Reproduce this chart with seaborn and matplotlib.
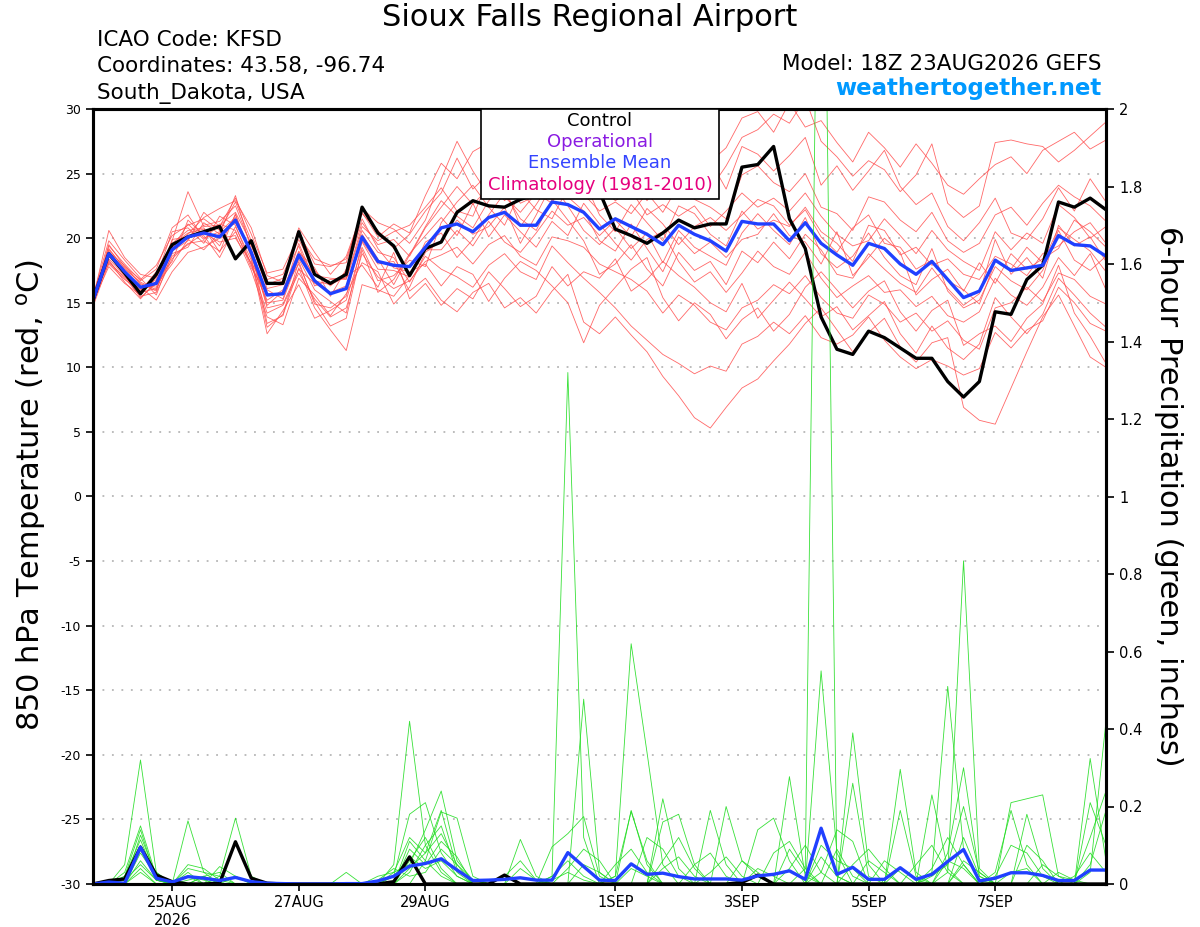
import numpy as np
import pandas as pd
import matplotlib
matplotlib.use("Agg")
import matplotlib.pyplot as plt
from matplotlib.patches import Rectangle
import seaborn as sns

# ---- data (6-hourly, 23AUG2026 18Z -> 08SEP2026 18Z) ----
times = pd.date_range("2026-08-23 18:00", periods=65, freq="6h")

control_t = [15.2, 18.8, 17.3, 15.7, 17.2, 19.5, 20.1, 20.5, 20.9, 18.4, 19.8,
             16.5, 16.5, 20.5, 17.2, 16.5, 17.2, 22.4, 20.4, 19.4, 17.1, 19.2,
             19.7, 22.0, 22.9, 22.5, 22.4, 23.0, 23.4, 23.8, 24.2, 24.6, 23.6,
             20.7, 20.2, 19.6, 20.4, 21.4, 20.8, 21.1, 21.1, 25.5, 25.7, 27.1,
             21.5, 19.2, 13.9, 11.4, 11.0, 12.8, 12.3, 11.5, 10.7, 10.7, 8.9,
             7.7, 8.9, 14.3, 14.1, 16.8, 17.9, 22.8, 22.4, 23.1, 22.2]

mean_t = [15.2, 18.8, 17.4, 16.2, 16.5, 19.1, 20.1, 20.4, 20.1, 21.4, 18.9,
          15.6, 15.7, 18.7, 16.7, 15.7, 16.1, 20.1, 18.2, 17.9, 17.8, 19.3,
          20.8, 21.1, 20.5, 21.6, 22.0, 21.0, 21.0, 22.8, 22.6, 22.0, 20.7,
          21.5, 20.9, 20.3, 19.5, 21.0, 20.3, 19.8, 19.0, 21.3, 21.1, 21.1,
          19.8, 21.2, 19.6, 18.7, 17.9, 19.6, 19.2, 18.0, 17.2, 18.2, 16.8,
          15.4, 15.9, 18.3, 17.5, 17.7, 17.9, 20.2, 19.5, 19.4, 18.6]

t01 = [15.0, 19.5, 17.8, 16.8, 17.9, 20.2, 21.0, 21.5, 20.6, 22.8, 19.8,
       16.8, 17.2, 19.9, 17.5, 16.3, 17.4, 21.2, 19.5, 19.9, 18.6, 20.8,
       22.4, 24.0, 22.6, 23.9, 24.8, 22.7, 23.3, 25.6, 24.0, 23.4, 22.1,
       22.8, 21.9, 23.5, 22.0, 24.1, 23.0, 22.4, 21.5, 24.9, 25.6, 24.3,
       23.6, 25.0, 22.4, 21.9, 20.6, 23.2, 22.8, 21.4, 20.5, 22.0, 19.8,
       18.9, 19.6, 21.8, 22.4, 21.0, 22.7, 24.1, 23.2, 22.5, 21.3]
t02 = [15.4, 18.2, 16.9, 15.5, 15.8, 18.4, 19.6, 19.8, 19.0, 20.5, 18.0,
       14.2, 14.8, 17.3, 15.3, 13.9, 14.6, 18.8, 17.0, 16.1, 16.7, 18.2,
       18.7, 19.3, 18.0, 19.5, 20.2, 18.6, 17.9, 20.1, 19.8, 19.3, 18.0,
       17.4, 16.8, 15.9, 14.2, 15.6, 14.8, 13.5, 12.9, 14.6, 15.2, 16.4,
       15.7, 17.1, 15.4, 14.2, 13.8, 15.6, 14.9, 13.5, 14.2, 12.8, 13.6,
       12.1, 11.4, 14.6, 15.0, 16.2, 15.1, 17.3, 16.8, 15.5, 14.9]
t03 = [14.8, 18.9, 17.9, 16.4, 16.2, 19.8, 23.6, 20.9, 21.0, 22.0, 19.6,
       16.1, 16.4, 20.5, 18.0, 17.8, 18.4, 21.9, 20.6, 19.2, 20.3, 22.1,
       23.5, 26.2, 23.8, 25.0, 22.9, 24.1, 24.8, 26.9, 27.5, 25.2, 23.9,
       25.4, 24.0, 26.3, 24.7, 27.2, 25.1, 23.8, 25.6, 27.8, 28.4, 29.6,
       28.9, 30.8, 27.5, 26.3, 24.8, 26.0, 25.3, 23.6, 24.9, 27.3, 22.7,
       21.6, 22.5, 27.4, 27.6, 27.3, 27.1, 25.9, 26.8, 27.9, 29.0]
t04 = [15.5, 19.8, 18.3, 16.9, 15.6, 18.8, 19.3, 21.2, 20.3, 23.3, 19.1,
       13.4, 14.0, 17.7, 14.6, 12.9, 11.3, 16.4, 16.0, 15.5, 17.1, 19.7,
       20.4, 18.5, 19.9, 21.8, 23.5, 21.5, 20.6, 23.0, 21.4, 19.8, 17.2,
       18.0, 19.5, 17.6, 16.3, 18.9, 17.5, 18.2, 16.4, 19.0, 18.1, 19.7,
       18.4, 20.3, 19.1, 17.2, 16.9, 18.8, 17.6, 16.5, 15.8, 17.7, 16.1,
       14.8, 15.7, 19.9, 17.2, 18.5, 16.9, 21.0, 19.4, 20.1, 18.2]
t05 = [15.1, 17.8, 16.5, 15.6, 17.0, 20.5, 20.8, 19.6, 21.7, 21.0, 17.9,
       15.2, 16.0, 19.0, 17.1, 16.9, 16.8, 20.6, 18.9, 18.5, 16.6, 18.6,
       17.6, 17.0, 16.2, 17.9, 18.8, 17.4, 16.8, 19.4, 18.1, 16.9, 15.8,
       14.6, 13.2, 12.1, 11.0, 10.3, 9.5, 10.1, 9.7, 11.8, 12.4, 13.5,
       12.6, 14.0, 12.3, 11.8, 12.5, 13.9, 12.1, 10.8, 9.9, 10.6, 10.1,
       9.4, 9.9, 12.7, 11.5, 12.9, 13.6, 16.2, 15.0, 13.4, 12.8]
t06 = [15.3, 18.6, 17.2, 16.0, 16.8, 18.2, 21.4, 20.2, 18.5, 20.9, 18.3,
       12.6, 14.4, 16.4, 13.8, 14.4, 15.2, 19.3, 16.7, 17.1, 18.3, 17.8,
       21.2, 22.8, 24.1, 22.4, 21.0, 23.6, 22.2, 21.5, 23.9, 24.5, 21.8,
       20.5, 22.6, 21.2, 19.8, 22.5, 21.9, 20.3, 19.4, 22.1, 20.7, 21.4,
       20.9, 22.4, 20.5, 19.6, 18.2, 21.0, 20.6, 18.7, 19.3, 17.9, 18.4,
       17.2, 16.8, 18.6, 18.0, 17.1, 18.8, 19.4, 20.5, 21.2, 19.6]
t07 = [14.9, 19.2, 17.6, 16.6, 16.0, 19.0, 19.8, 22.0, 20.9, 23.1, 20.3,
       17.3, 17.6, 20.2, 18.4, 17.9, 18.1, 22.3, 21.2, 20.7, 19.6, 21.4,
       24.6, 27.5, 25.2, 23.3, 25.6, 25.9, 27.1, 28.4, 26.0, 27.3, 25.4,
       24.1, 25.3, 22.9, 24.6, 25.8, 24.2, 26.0, 23.8, 27.1, 26.5, 25.2,
       26.4, 27.8, 24.1, 25.6, 23.7, 25.2, 26.8, 24.0, 22.6, 23.5, 20.9,
       19.8, 21.2, 23.1, 20.4, 19.9, 21.5, 23.9, 22.1, 24.6, 22.8]
t08 = [15.6, 18.0, 16.8, 15.9, 17.4, 19.5, 20.4, 20.7, 19.4, 21.8, 18.6,
       15.0, 15.2, 18.4, 16.0, 15.1, 14.2, 19.8, 18.0, 18.2, 15.9, 16.9,
       15.2, 14.3, 15.8, 16.5, 14.6, 15.4, 14.2, 15.9, 17.2, 13.5, 12.6,
       13.9, 12.5, 11.2, 9.3, 7.8, 6.1, 5.3, 6.9, 8.4, 9.1, 10.5,
       11.8, 13.4, 14.6, 12.9, 11.2, 12.7, 13.8, 11.6, 10.4, 11.9, 12.3,
       6.9, 5.9, 5.6, 8.4, 11.2, 13.9, 15.6, 13.2, 10.8, 10.0]
t09 = [15.0, 19.0, 17.4, 16.2, 15.2, 17.4, 18.9, 19.3, 20.0, 20.2, 17.5,
       13.9, 13.3, 16.9, 15.6, 14.0, 15.7, 18.1, 17.4, 14.9, 16.2, 18.9,
       19.8, 21.4, 20.3, 20.9, 22.4, 19.6, 21.8, 24.2, 22.5, 20.6, 19.5,
       20.8, 19.2, 20.4, 18.1, 20.6, 19.3, 18.6, 17.9, 20.4, 21.9, 20.6,
       19.5, 21.6, 18.8, 17.7, 18.6, 20.4, 18.5, 17.1, 16.4, 19.2, 15.9,
       14.6, 15.2, 17.8, 16.7, 16.0, 17.5, 20.6, 18.3, 17.5, 18.6]
t10 = [15.2, 18.4, 17.1, 15.4, 16.5, 19.9, 20.1, 21.0, 21.3, 22.5, 19.4,
       16.4, 16.9, 19.4, 16.3, 16.8, 16.9, 20.9, 19.8, 20.5, 21.0, 22.4,
       23.9, 22.1, 21.7, 24.6, 23.2, 22.0, 23.5, 22.7, 25.3, 26.1, 24.0,
       22.9, 23.7, 21.8, 22.6, 21.7, 22.5, 20.9, 22.1, 23.5, 22.4, 23.1,
       22.1, 23.5, 21.7, 20.3, 19.4, 19.8, 21.5, 20.2, 18.8, 20.6, 19.1,
       18.2, 17.5, 20.5, 19.1, 20.4, 19.6, 22.6, 21.6, 20.0, 20.9]
t11 = [15.4, 19.4, 18.0, 16.7, 17.6, 20.8, 21.8, 20.0, 20.5, 21.6, 18.8,
       14.8, 15.9, 18.0, 15.1, 13.2, 13.8, 19.1, 15.8, 16.8, 18.8, 20.2,
       21.6, 20.2, 22.7, 20.1, 21.8, 20.5, 19.3, 21.3, 20.2, 22.7, 21.1,
       19.6, 18.3, 19.9, 20.5, 18.2, 16.6, 17.4, 15.8, 17.3, 19.0, 17.8,
       17.2, 18.9, 16.9, 15.4, 16.3, 17.1, 15.8, 16.0, 14.7, 15.5, 14.0,
       13.5, 14.3, 16.9, 15.6, 14.8, 16.2, 18.5, 17.1, 18.8, 16.0]
t12 = [14.7, 18.1, 17.0, 15.8, 16.1, 18.6, 19.5, 20.4, 19.7, 20.0, 18.1,
       16.0, 15.3, 18.9, 17.7, 15.5, 17.6, 21.5, 19.2, 17.7, 17.4, 18.0,
       16.3, 17.8, 17.2, 15.1, 16.9, 18.2, 17.5, 16.3, 15.0, 11.9, 14.8,
       16.2, 17.6, 18.5, 15.4, 13.6, 15.0, 14.1, 12.2, 13.7, 14.6, 12.8,
       14.1, 16.2, 17.4, 16.0, 14.6, 15.9, 16.7, 14.3, 12.8, 14.4, 15.2,
       11.7, 12.6, 13.2, 12.0, 13.8, 14.9, 17.9, 14.2, 12.4, 10.3]
t13 = [15.3, 20.6, 18.5, 17.2, 16.9, 19.3, 20.3, 21.6, 22.3, 22.9, 20.8,
       17.1, 16.6, 20.8, 18.9, 17.2, 18.6, 22.0, 20.1, 21.1, 20.4, 23.3,
       25.8, 24.6, 26.7, 27.4, 25.1, 26.8, 28.3, 27.2, 28.9, 28.0, 26.3,
       27.1, 28.0, 25.6, 26.3, 28.5, 27.4, 25.9, 27.0, 29.3, 29.8, 28.2,
       30.5, 28.6, 29.1, 27.4, 25.9, 28.2, 27.0, 25.5, 27.3, 25.8, 24.1,
       23.4, 24.6, 25.7, 26.3, 25.0, 26.8, 27.5, 28.2, 26.9, 27.6]
t14 = [15.1, 18.7, 17.3, 16.1, 16.4, 18.0, 19.9, 19.1, 20.4, 21.2, 19.0,
       14.6, 14.9, 17.6, 16.5, 15.8, 16.3, 19.7, 17.6, 17.5, 17.0, 19.1,
       19.1, 20.6, 19.4, 21.3, 19.7, 18.9, 20.4, 22.1, 21.0, 21.6, 20.2,
       21.4, 20.1, 22.3, 21.1, 19.5, 20.9, 21.6, 20.6, 21.8, 23.0, 22.5,
       21.0, 22.2, 20.1, 18.9, 20.8, 21.8, 19.6, 19.3, 17.6, 18.3, 16.7,
       16.0, 14.9, 18.2, 17.6, 19.3, 18.1, 20.8, 19.9, 19.0, 17.4]
t15 = [15.6, 19.1, 17.7, 16.5, 15.9, 19.6, 20.6, 20.8, 18.9, 21.9, 18.5,
       13.1, 14.1, 18.2, 14.9, 14.6, 15.5, 20.3, 18.4, 16.4, 18.7, 20.9,
       22.9, 21.7, 20.8, 22.9, 24.0, 20.9, 22.6, 24.5, 23.2, 22.1, 19.8,
       19.0, 21.1, 19.2, 17.4, 20.1, 18.8, 19.7, 18.5, 19.9, 20.3, 21.9,
       20.2, 19.7, 18.0, 20.5, 17.1, 18.5, 20.0, 18.9, 15.6, 16.8, 17.6,
       15.9, 18.1, 16.5, 18.8, 17.6, 18.4, 19.2, 21.4, 20.5, 19.3]
t16 = [14.9, 18.3, 16.6, 15.3, 16.7, 19.2, 21.1, 19.9, 21.1, 20.6, 17.7,
       15.7, 15.6, 19.6, 16.7, 16.4, 17.0, 17.9, 16.2, 18.9, 15.3, 16.5,
       14.8, 16.1, 15.3, 17.4, 16.1, 14.7, 15.5, 17.8, 16.3, 17.4, 16.9,
       18.4, 15.9, 16.8, 18.2, 17.1, 16.2, 15.0, 14.3, 16.5, 13.8, 15.2,
       16.6, 15.3, 13.9, 14.7, 12.9, 14.0, 15.1, 12.6, 11.1, 13.2, 11.5,
       10.6, 11.8, 15.4, 13.9, 12.6, 14.1, 16.9, 15.6, 14.2, 13.1]

control_p = [0, 0.009, 0.013, 0.095, 0.023, 0.006, 0, 0, 0.002, 0.109, 0.015,
             0.002, 0, 0, 0, 0, 0, 0, 0, 0.006, 0.07, 0,
             0, 0, 0, 0, 0.023, 0, 0, 0, 0, 0, 0,
             0, 0, 0, 0, 0, 0, 0, 0, 0.004, 0.023, 0,
             0, 0, 0, 0, 0, 0, 0, 0, 0, 0, 0,
             0, 0, 0, 0, 0, 0, 0, 0, 0, 0]
mean_p = [0, 0.005, 0.002, 0.095, 0.015, 0.005, 0.019, 0.015, 0.009, 0.017, 0.006,
          0.002, 0.001, 0, 0, 0, 0.001, 0.001, 0.008, 0.02, 0.046, 0.053,
          0.065, 0.036, 0.009, 0.01, 0.012, 0.016, 0.01, 0.01, 0.081, 0.045, 0.01,
          0.009, 0.052, 0.025, 0.028, 0.019, 0.013, 0.013, 0.013, 0.01, 0.021, 0.025,
          0.034, 0.012, 0.144, 0.025, 0.043, 0.012, 0.012, 0.042, 0.012, 0.025, 0.058,
          0.089, 0.008, 0.015, 0.029, 0.029, 0.022, 0.009, 0.009, 0.036, 0.036]

# members' precip: non-zero 6-hour totals keyed by step index
p01 = {2: 0.05, 3: 0.32, 4: 0.03, 8: 0.02, 9: 0.17, 10: 0.02, 19: 0.05, 20: 0.42,
       21: 0.1, 22: 0.03, 29: 0.02, 30: 1.32, 31: 0.12, 36: 0.22, 37: 0.04,
       46: 0.55, 47: 0.08, 55: 0.05, 58: 0.21, 59: 0.22, 60: 0.23, 61: 0.02}
p02 = {2: 0.03, 3: 0.15, 4: 0.02, 6: 0.163, 7: 0.03, 19: 0.02, 20: 0.18, 21: 0.21,
       22: 0.08, 23: 0.02, 31: 0.477, 32: 0.03, 34: 0.19, 35: 0.05, 44: 0.277,
       45: 0.02, 48: 0.39, 49: 0.05, 54: 0.03, 55: 0.834, 56: 0.04, 63: 0.324, 64: 0.06}
p03 = {2: 0.02, 3: 0.14, 4: 0.01, 6: 0.04, 7: 0.03, 8: 0.02, 21: 0.06, 22: 0.186,
       23: 0.17, 24: 0.02, 27: 0.115, 28: 0.02, 33: 0.02, 34: 0.62, 35: 0.34,
       36: 0.05, 45: 0.04, 46: 3.2, 47: 0.02, 51: 0.296, 52: 0.03, 57: 0.03,
       58: 0.19, 59: 0.05, 63: 0.03, 64: 0.42}
p04 = {3: 0.126, 4: 0.02, 6: 0.03, 8: 0.045, 9: 0.02, 19: 0.03, 20: 0.12, 21: 0.08,
       22: 0.19, 23: 0.04, 29: 0.096, 30: 0.13, 31: 0.174, 32: 0.02, 39: 0.19,
       40: 0.05, 48: 0.26, 49: 0.02, 53: 0.03, 54: 0.51, 55: 0.09, 56: 0.01,
       63: 0.21, 64: 0.1}
p05 = {2: 0.02, 3: 0.114, 4: 0.015, 7: 0.02, 8: 0.03, 18: 0.02, 19: 0.03, 20: 0.05,
       21: 0.14, 22: 0.24, 23: 0.06, 24: 0.01, 33: 0.02, 34: 0.187, 35: 0.06,
       40: 0.2, 41: 0.06, 42: 0.02, 47: 0.09, 48: 0.02, 53: 0.23, 54: 0.04,
       59: 0.18, 60: 0.04, 63: 0.05, 64: 0.19}
p06 = {3: 0.1, 4: 0.01, 6: 0.02, 7: 0.01, 16: 0.03, 20: 0.09, 21: 0.05, 22: 0.11,
       23: 0.07, 26: 0.02, 27: 0.06, 28: 0.01, 36: 0.16, 37: 0.18, 38: 0.05,
       42: 0.14, 43: 0.17, 44: 0.06, 46: 0.03, 47: 0.14, 48: 0.11, 51: 0.19,
       52: 0.02, 55: 0.12, 56: 0.02}
p07 = {3: 0.08, 4: 0.02, 6: 0.05, 7: 0.04, 8: 0.01, 20: 0.03, 21: 0.1, 22: 0.15,
       23: 0.03, 30: 0.04, 31: 0.09, 32: 0.06, 35: 0.12, 36: 0.09, 37: 0.02,
       43: 0.08, 44: 0.11, 45: 0.04, 49: 0.06, 50: 0.03, 54: 0.08, 55: 0.3,
       56: 0.02, 60: 0.05, 61: 0.02, 62: 0.01}
p08 = {3: 0.06, 4: 0.01, 7: 0.02, 19: 0.02, 20: 0.07, 21: 0.04, 22: 0.06, 23: 0.02,
       27: 0.04, 28: 0.01, 33: 0.05, 34: 0.09, 35: 0.03, 38: 0.05, 39: 0.08,
       40: 0.02, 44: 0.04, 45: 0.1, 46: 0.03, 52: 0.05, 53: 0.1, 54: 0.03,
       57: 0.02, 58: 0.1, 59: 0.08, 60: 0.02}
p09 = {2: 0.01, 3: 0.05, 4: 0.01, 20: 0.04, 21: 0.08, 22: 0.13, 23: 0.05, 29: 0.02,
       30: 0.06, 31: 0.02, 36: 0.04, 37: 0.07, 38: 0.02, 41: 0.06, 42: 0.03,
       48: 0.05, 49: 0.09, 50: 0.04, 55: 0.06, 56: 0.03, 62: 0.02, 63: 0.08, 64: 0.03}
p10 = {3: 0.04, 6: 0.01, 7: 0.02, 18: 0.01, 19: 0.04, 20: 0.02, 21: 0.03, 22: 0.09,
       23: 0.05, 24: 0.01, 34: 0.04, 35: 0.02, 42: 0.04, 43: 0.02, 46: 0.07,
       47: 0.02, 51: 0.04, 52: 0.01, 54: 0.06, 55: 0.04, 58: 0.03, 59: 0.04}
p11 = {3: 0.03, 9: 0.02, 20: 0.06, 21: 0.12, 22: 0.04, 31: 0.05, 32: 0.03, 39: 0.03,
       40: 0.07, 41: 0.02, 44: 0.09, 45: 0.03, 50: 0.06, 51: 0.03, 53: 0.04,
       54: 0.12, 55: 0.05, 61: 0.03, 62: 0.01, 63: 0.12, 64: 0.24}
p12 = {3: 0.09, 4: 0.03, 6: 0.02, 20: 0.11, 21: 0.06, 22: 0.02, 29: 0.01, 30: 0.03,
       31: 0.01, 36: 0.06, 37: 0.12, 38: 0.04, 46: 0.1, 47: 0.06, 48: 0.04,
       53: 0.02, 54: 0.05, 55: 0.2, 56: 0.03, 59: 0.1, 60: 0.06}

tick_times = pd.to_datetime(["2026-08-25", "2026-08-27", "2026-08-29", "2026-09-01",
                             "2026-09-03", "2026-09-05", "2026-09-07"])
tick_labels = ["25AUG\n2026", "27AUG", "29AUG", "1SEP", "3SEP", "5SEP", "7SEP"]
precip_ticks = [0, 0.2, 0.4, 0.6, 0.8, 1, 1.2, 1.4, 1.6, 1.8, 2]
precip_labels = ["0", "0.2", "0.4", "0.6", "0.8", "1", "1.2", "1.4", "1.6", "1.8", "2"]

# ---- tables for seaborn ----
temp_members = [t01, t02, t03, t04, t05, t06, t07, t08, t09, t10, t11, t12, t13, t14, t15, t16]
tdf = pd.concat([pd.DataFrame({"time": times, "temp": m, "member": k})
                 for k, m in enumerate(temp_members)], ignore_index=True)

precip_members = [p01, p02, p03, p04, p05, p06, p07, p08, p09, p10, p11, p12]
rows = []
for k, d in enumerate(precip_members):
    vals = np.zeros(65)
    for i, v in d.items():
        vals[i] = v
    rows.append(pd.DataFrame({"time": times, "precip": vals, "member": k}))
pdf = pd.concat(rows, ignore_index=True)

main = pd.DataFrame({"time": times, "control_t": control_t, "mean_t": mean_t,
                     "control_p": control_p, "mean_p": mean_p})

# ---- plot ----
sns.set_style("white")
plt.rcParams["font.family"] = ["DejaVu Sans"]
plt.rcParams["mathtext.default"] = "regular"
plt.rcParams["axes.unicode_minus"] = False
plt.rcParams["text.color"] = "black"
plt.rcParams["xtick.color"] = "black"
plt.rcParams["ytick.color"] = "black"
plt.rcParams["xtick.labelcolor"] = "black"
plt.rcParams["ytick.labelcolor"] = "black"

fig = plt.figure(figsize=(12, 9.27), dpi=100)
ax = fig.add_axes([93/1200, 1-884/927, (1106-93)/1200, (884-109)/927])
ax2 = ax.twinx()

sns.lineplot(data=tdf, x="time", y="temp", units="member", estimator=None,
             color="#ff4d4d", lw=0.6, alpha=0.85, ax=ax, legend=False)
sns.lineplot(data=main, x="time", y="control_t", color="black", lw=2.4, ax=ax)
sns.lineplot(data=main, x="time", y="mean_t", color="#2040ff", lw=2.4, ax=ax)

sns.lineplot(data=pdf, x="time", y="precip", units="member", estimator=None,
             color="#22dd22", lw=0.6, alpha=0.9, ax=ax2, legend=False)
sns.lineplot(data=main, x="time", y="control_p", color="black", lw=2.4, ax=ax2)
sns.lineplot(data=main, x="time", y="mean_p", color="#2040ff", lw=2.4, ax=ax2)

ax.set_xlim(times[0], times[-1])
ax.set_ylim(-30, 30)
ax2.set_ylim(0, 2)
ax.set_yticks(range(-30, 31, 5))
ax.tick_params(axis="y", labelsize=9, direction="out", length=5, width=1.2, left=True,
               colors="black")
ax.set_xticks(tick_times)
ax.set_xticklabels(tick_labels)
ax.tick_params(axis="x", labelsize=10.5, direction="out", length=5, width=1.2, bottom=True,
               pad=3, colors="black")
ax2.set_yticks(precip_ticks)
ax2.set_yticklabels(precip_labels)
ax2.tick_params(axis="y", labelsize=10.5, direction="out", length=6, width=1.2, right=True,
                colors="black")
ax.set_xlabel("")
ax.set_ylabel("")
ax2.set_ylabel("")
ax.grid(False)
ax2.grid(False)
for lv in range(-25, 30, 5):
    ax.axhline(lv, color="#aaaaaa", lw=1.1, ls=(0, (1.2, 5)), zorder=0)
for a in (ax, ax2):
    for s in a.spines.values():
        s.set_linewidth(2.2)
        s.set_color("black")

# titles and annotations
fig.text(590/1200, 1-18/927, "Sioux Falls Regional Airport", ha="center", va="center", fontsize=22)
fig.text(97/1200, 1-40/927, "ICAO Code: KFSD", ha="left", va="center", fontsize=15.5)
fig.text(97/1200, 1-66/927, "Coordinates: 43.58, -96.74", ha="left", va="center", fontsize=15.5)
fig.text(97/1200, 1-93/927, "South_Dakota, USA", ha="left", va="center", fontsize=15.5)
fig.text(1101/1200, 1-64/927, "Model: 18Z 23AUG2026 GEFS", ha="right", va="center", fontsize=15.5)
fig.text(1101/1200, 1-89/927, "weathertogether.net", ha="right", va="center", fontsize=16.5,
         fontweight="bold", color="#0099ff")

fig.text(31/1200, 1-495/927, "850 hPa Temperature (red, $^{o}$C)", rotation=90,
         ha="center", va="center", fontsize=22)
fig.text(1168/1200, 1-496/927, "6-hour Precipitation (green, inches)", rotation=270,
         ha="center", va="center", fontsize=22)

# legend box
fig.patches.append(Rectangle((481/1200, 1-199/927), (719-481)/1200, 90/927,
                             transform=fig.transFigure, facecolor="white",
                             edgecolor="black", lw=1.2, zorder=5))
leg = [("Control", "black", 121), ("Operational", "#8a1be2", 142),
       ("Ensemble Mean", "#3344ff", 163), ("Climatology (1981-2010)", "#e6007e", 185)]
for txt, col, yy in leg:
    fig.text(600/1200, 1-yy/927, txt, ha="center", va="center", fontsize=13, color=col, zorder=6)

fig.savefig("out.png", dpi=100)
